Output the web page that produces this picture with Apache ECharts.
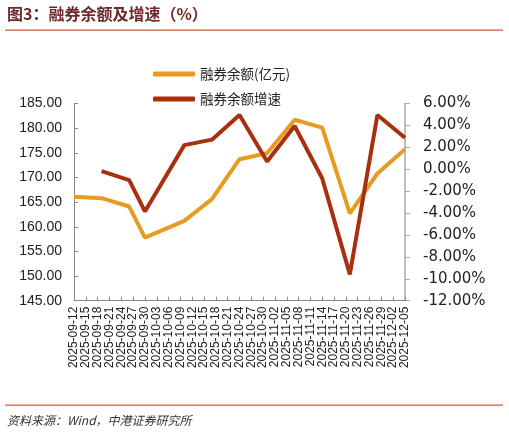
<!DOCTYPE html>
<html>
<head>
<meta charset="utf-8">
<script src="https://cdn.jsdelivr.net/npm/echarts@6/dist/echarts.min.js"></script>
<style>html,body{margin:0;padding:0;background:#fff;}#c{width:509px;height:434px;}</style>
</head>
<body>
<div id="c"></div>
<script>
var dates = ['2025-09-12','2025-09-19','2025-09-26','2025-09-30','2025-10-10','2025-10-17','2025-10-24','2025-10-31','2025-11-07','2025-11-14','2025-11-21','2025-11-28','2025-12-05'];
var balance = [166.1,165.8,164.1,157.8,161.2,165.6,173.7,174.9,181.7,180.1,162.7,170.8,175.7];
var growth = [null,-0.18,-1.0,-3.85,2.2,2.7,4.95,0.7,3.95,-0.85,-9.6,4.95,2.88];
var axisStart = '2025-09-12';
var axisEnd = '2025-12-05';
var leftTicks = [145, 185, 5];
var rightTicks = [-12, 6, 2];

var DAY = 86400000;
function toMs(s){ var p = s.split('-'); return Date.UTC(+p[0], +p[1]-1, +p[2]); }
var base = toMs(axisStart);
function dayIdx(s){ return Math.round((toMs(s) - base) / DAY); }
function pad(n){ return (n < 10 ? '0' : '') + n; }
function fmtDay(v){ var d = new Date(base + v * DAY); return d.getUTCFullYear() + '-' + pad(d.getUTCMonth()+1) + '-' + pad(d.getUTCDate()); }

var balData = dates.map(function(d,i){ return [dayIdx(d), balance[i]]; });
var grData = dates.map(function(d,i){ return [dayIdx(d), growth[i]]; });

var chart = echarts.init(document.getElementById('c'), null, {renderer:'canvas'});
chart.setOption({
  animation: false,
  backgroundColor: '#fff',
  graphic: [
    {type:'text', left: 7, top: 6, style:{text:'图3：融券余额及增速（%）', font:'bold 16px "Noto Sans CJK SC"', fill:'#6e2a2a'}},
    {type:'rect', shape:{x:5, y:29.5, width:498, height:1.2}, style:{fill:'#cf5a3c'}},
    {type:'rect', shape:{x:5, y:404.5, width:498, height:1.2}, style:{fill:'#e0593a'}},
    {type:'text', left: 7, top: 414, style:{text:'资料来源：Wind，中港证券研究所', font:'italic 12px "Noto Sans CJK SC"', fill:'#333'}}
  ],
  legend: {
    orient: 'vertical', left: 153, top: 67, padding: 0,
    itemWidth: 42, itemHeight: 5, itemGap: 11, icon: 'roundRect',
    textStyle: {fontSize: 13.5, lineHeight: 14, color: '#222', fontFamily: '"Noto Sans CJK SC"'},
    data: ['融券余额(亿元)', '融券余额增速']
  },
  grid: {left: 74, right: 104, top: 103.5, bottom: 133.3},
  xAxis: {
    type: 'value', min: dayIdx(axisStart), max: dayIdx(axisEnd), interval: 3,
    axisLine: {show: true, onZero: false, lineStyle: {color: '#888', width: 1}},
    axisTick: {show: true, inside: true, length: 4, lineStyle: {color: '#888'}},
    splitLine: {show: false},
    axisLabel: {rotate: 90, margin: 6, fontSize: 12, color: '#222', fontFamily: '"Liberation Sans", Arial', formatter: function(v){ return fmtDay(v); }}
  },
  yAxis: [
    {
      type: 'value', min: leftTicks[0], max: leftTicks[1], interval: leftTicks[2],
      axisLine: {show: true, onZero: false, lineStyle: {color: '#888', width: 1}},
      axisTick: {show: true, inside: true, length: 4, lineStyle: {color: '#888'}},
      splitLine: {show: false},
      axisLabel: {margin: 12, fontSize: 14, color: '#222', fontFamily: '"Liberation Sans", Arial', formatter: function(v){ return v.toFixed(2); }}
    },
    {
      type: 'value', min: rightTicks[0], max: rightTicks[1], interval: rightTicks[2], position: 'right',
      axisLine: {show: true, onZero: false, lineStyle: {color: '#aaa', width: 1.5}},
      axisTick: {show: true, inside: false, length: 5, lineStyle: {color: '#aaa'}},
      splitLine: {show: false},
      axisLabel: {margin: 18, fontSize: 15, color: '#222', fontFamily: '"DejaVu Sans"', formatter: function(v){ return v.toFixed(2) + '%'; }}
    }
  ],
  series: [
    {name: '融券余额(亿元)', type: 'line', yAxisIndex: 0, data: balData, symbol: 'none', lineStyle: {width: 4, color: '#e89b22'}, itemStyle: {color: '#e89b22'}},
    {name: '融券余额增速', type: 'line', yAxisIndex: 1, data: grData, symbol: 'none', lineStyle: {width: 4, color: '#a8300e'}, itemStyle: {color: '#a8300e'}}
  ]
});
</script>
</body>
</html>
